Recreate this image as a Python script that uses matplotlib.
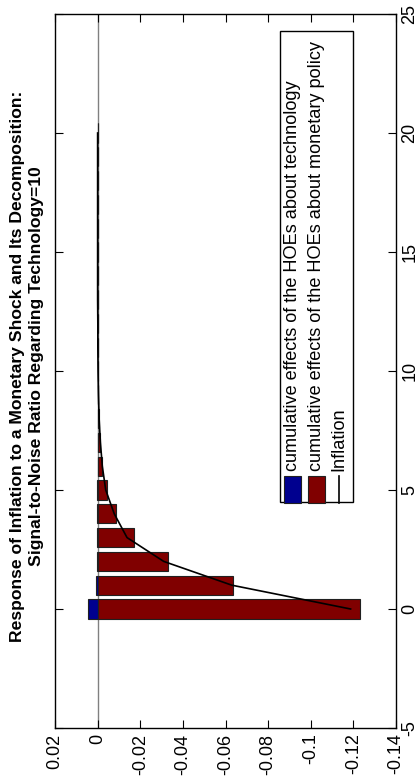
import matplotlib
matplotlib.use("Agg")
import matplotlib.pyplot as plt
from matplotlib.patches import Rectangle
from matplotlib.lines import Line2D

plt.rcParams['font.family'] = ['Liberation Sans', 'DejaVu Sans']

# impulse responses, horizon 0..20
horizon = list(range(21))
hoe_technology = [0.0044, 0.0006, 0.0003, 0.0002, 0.0001, 0.0001, 0.0, 0.0, 0.0, 0.0, 0.0,
                  0.0, 0.0, 0.0, 0.0, 0.0, 0.0, 0.0, 0.0, 0.0, 0.0]
hoe_monetary = [-0.1230, -0.0635, -0.0332, -0.0169, -0.0088, -0.0042, -0.0022, -0.0012,
                -0.0007, -0.0004, -0.0002, -0.0001, -0.0001, 0.0, 0.0, 0.0, 0.0, 0.0,
                0.0, 0.0, 0.0]
inflation = [-0.1187, -0.0630, -0.0310, -0.0138, -0.0078, -0.0038, -0.0022, -0.0013,
             -0.0007, -0.0004, -0.0002, -0.0001, -0.0001, 0.0, 0.0, 0.0, 0.0, 0.0,
             0.0, 0.0, 0.0]

val_ticks = [0.02, 0, -0.02, -0.04, -0.06, -0.08, -0.1, -0.12, -0.14]
val_labels = ['0.02', '0', '-0.02', '-0.04', '-0.06', '-0.08', '-0.1', '-0.12', '-0.14']
hor_ticks = [-5, 0, 5, 10, 15, 20, 25]

legend_labels = ['cumulative effects of the HOEs about technology',
                 'cumulative effects of the HOEs about monetary policy',
                 'Inflation']

c_tech = '#00008f'
c_mon = '#800000'

W, H = 419, 778
fig = plt.figure(figsize=(W / 100, H / 100), dpi=100)
ax = fig.add_axes([55 / W, (H - 728) / H, (396 - 55) / W, (728 - 14) / H])

# horizon runs up the page, values run right (figure is printed sideways)
ax.axvline(0, color='#808080', lw=1.0, zorder=1)
ax.barh(horizon, hoe_technology, height=0.8, color=c_tech, edgecolor='#202020', lw=0.8, zorder=2)
ax.barh(horizon, hoe_monetary, height=0.8, color=c_mon, edgecolor='#202020', lw=0.8, zorder=2)
ax.plot(inflation, horizon, color='black', lw=1.2, zorder=3)

ax.set_xlim(0.02, -0.14)
ax.set_ylim(-5, 25)
ax.set_xticks(val_ticks)
ax.set_xticklabels(val_labels, rotation=90, fontsize=13)
ax.set_yticks(hor_ticks)
ax.set_yticklabels([str(t) for t in hor_ticks], rotation=90, fontsize=13, va='center')
ax.yaxis.tick_right()
ax.tick_params(direction='in', length=6, width=0.8, top=True, bottom=True,
               left=True, right=True, pad=4)
for s in ax.spines.values():
    s.set_linewidth(1.0)

# sideways legend
lx0, lx1 = (280 - 55) / 341, (353 - 55) / 341
ly0, ly1 = (728 - 502) / 714, (728 - 31) / 714
ax.add_patch(Rectangle((lx0, ly0), lx1 - lx0, ly1 - ly0, transform=ax.transAxes,
                       facecolor='white', edgecolor='black', lw=1.0, zorder=5))
cols = [(292 - 55) / 341, (316 - 55) / 341, (339 - 55) / 341]
pb0, pb1 = (728 - 503) / 714, (728 - 476) / 714
for i, c in enumerate([c_tech, c_mon]):
    ax.add_patch(Rectangle((cols[i] - 8.5 / 341, pb0), 17 / 341, pb1 - pb0,
                           transform=ax.transAxes, facecolor=c, edgecolor='#202020',
                           lw=0.8, zorder=6))
ax.add_line(Line2D([cols[2], cols[2]], [pb0, pb1], transform=ax.transAxes,
                   color='black', lw=1.2, zorder=6))
ty = (728 - 471) / 714
for i, lab in enumerate(legend_labels):
    ax.text(cols[i], ty, lab, transform=ax.transAxes, rotation=90, fontsize=13.1,
            ha='center', va='bottom', zorder=7)

fig.text(27 / W, (H - 366) / H,
         'Response of Inflation to a Monetary Shock and Its Decomposition:\n'
         'Signal-to-Noise Ratio Regarding Technology=10',
         rotation=90, ha='center', va='center', multialignment='center',
         fontsize=12.6, fontweight='bold', linespacing=1.3)

fig.savefig('out.png', dpi=100)
